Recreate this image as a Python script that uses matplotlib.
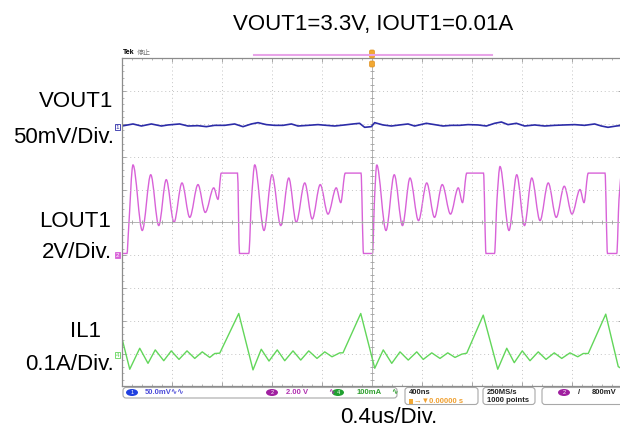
import numpy as np
import matplotlib
matplotlib.use('Agg')
import matplotlib.pyplot as plt
import matplotlib.transforms as mtransforms
from matplotlib.patches import FancyBboxPatch, Ellipse, PathPatch
from matplotlib.path import Path

plt.rcParams['font.family'] = ['Liberation Sans', 'Noto Sans CJK SC', 'DejaVu Sans']

# Text on the chart
title = 'VOUT1=3.3V, IOUT1=0.01A'
time_label = '0.4us/Div.'
ch_names = ['VOUT1', 'LOUT1', 'IL1']
ch_scales = ['50mV/Div.', '2V/Div.', '0.1A/Div.']

# VOUT1 ripple (mV) vs time (us)
vout_t = [-2.000, -1.912, -1.845, -1.765, -1.685, -1.632, -1.539, -1.472, -1.392, -1.325,
          -1.259, -1.179, -1.099, -1.032, -0.965, -0.912, -0.845, -0.779, -0.712, -0.645,
          -0.592, -0.512, -0.432, -0.365, -0.299, -0.219, -0.152, -0.099, -0.059, -0.005,
          0.021, 0.088, 0.155, 0.221, 0.288, 0.341, 0.435, 0.501, 0.568, 0.635,
          0.701, 0.768, 0.848, 0.915, 0.981, 1.035, 1.088, 1.155, 1.221, 1.301,
          1.381, 1.461, 1.541, 1.621, 1.701, 1.781, 1.835, 1.888, 1.955, 2.000]
vout_mv = [1.8, 4.9, 1.8, 4.9, 1.8, 3.4, 4.9, 1.8, 2.3, 0.8,
           2.8, 2.8, 4.9, 0.8, 4.9, 6.9, 3.9, 2.8, 2.8, 4.9,
           1.8, 2.8, 3.9, 2.8, 1.8, 3.4, 4.9, 5.9, -0.2, 0.8,
           6.9, 3.4, 1.8, 3.4, 4.9, 1.8, 5.9, 3.9, 1.8, 2.8,
           2.8, 3.9, 3.4, 1.8, 5.9, 7.9, 3.9, 5.9, 1.8, 3.4,
           1.8, 2.8, 3.4, 3.9, 2.8, 4.9, 1.8, -0.2, 1.8, 2.8]

# LOUT1 switch node (V)
lx_t = [-2.000, -1.960, -1.948, -1.912, -1.838, -1.770, -1.706, -1.646, -1.584, -1.520,
        -1.458, -1.392, -1.334, -1.266, -1.232, -1.206, -1.086, -1.076, -1.060, -0.986,
        -0.964, -0.938, -0.864, -0.800, -0.730, -0.666, -0.606, -0.538, -0.478, -0.414,
        -0.352, -0.286, -0.250, -0.214, -0.106, -0.088, -0.068, 0.004, 0.020, 0.038,
        0.112, 0.178, 0.244, 0.304, 0.372, 0.438, 0.500, 0.562, 0.628, 0.690,
        0.724, 0.758, 0.878, 0.892, 0.912, 0.980, 1.000, 1.024, 1.096, 1.158,
        1.220, 1.278, 1.344, 1.410, 1.474, 1.538, 1.600, 1.664, 1.696, 1.730,
        1.850, 1.864, 1.884, 1.958, 1.976, 2.000]
lx_v = [0.1, 0.1, 1.5, 5.5, 1.5, 4.9, 1.8, 4.6, 2.0, 4.4,
        2.3, 4.3, 2.6, 4.1, 3.4, 5.0, 5.0, 5.0, 0.1, 0.1,
        3.4, 5.5, 1.5, 4.9, 1.8, 4.7, 2.0, 4.4, 2.2, 4.3,
        2.5, 4.1, 3.2, 5.0, 5.0, 5.0, 0.1, 0.1, 3.4, 5.5,
        1.5, 4.9, 1.8, 4.7, 2.1, 4.4, 2.3, 4.3, 2.5, 4.1,
        3.2, 5.0, 5.0, 5.0, 0.1, 0.1, 3.4, 5.4, 1.5, 4.9,
        1.8, 4.7, 2.1, 4.4, 2.3, 4.2, 2.5, 4.0, 3.2, 5.0,
        5.0, 5.0, 0.1, 0.1, 3.4, 5.5]

# IL1 inductor current (mA)
il_t = [-2.000, -1.938, -1.858, -1.792, -1.734, -1.666, -1.606, -1.544, -1.480, -1.418,
        -1.358, -1.298, -1.258, -1.218, -1.066, -0.952, -0.886, -0.824, -0.758, -0.698,
        -0.632, -0.570, -0.506, -0.440, -0.378, -0.320, -0.258, -0.232, -0.090, 0.022,
        0.090, 0.158, 0.224, 0.290, 0.358, 0.410, 0.478, 0.544, 0.606, 0.664,
        0.718, 0.758, 0.890, 1.006, 1.078, 1.138, 1.202, 1.264, 1.330, 1.392,
        1.458, 1.518, 1.584, 1.646, 1.690, 1.730, 1.870, 1.970, 2.000]
il_ma = [51, -43, 21, -25, 16, -17, 13, -13, 13, -10,
         10, -7, 5, 6, 127, -45, 18, -18, 16, -17,
         13, -15, 13, -10, 10, -5, 7, 7, 127, -40,
         16, -25, 10, -15, 10, -13, 7, -10, 7, -7,
         3, 6, 122, -43, 21, -23, 13, -17, 10, -13,
         7, -10, 7, -5, 5, 5, 125, -35, -42]

# scope settings: units/div and ground marker position (div)
CH1_SCALE, CH1_POS = 50.0, 2.9
CH2_SCALE, CH2_POS = 2.0, -1.0
CH4_SCALE, CH4_POS = 100.0, -4.05

BLUE = '#2c2ca8'
MAGENTA = '#d862d8'
GREEN = '#62d65a'


def trace_path(x, y):
    """Smooth curve through the read points (monotone cubic, no overshoot)."""
    x = np.asarray(x, float)
    y = np.asarray(y, float)
    h = np.diff(x)
    d = np.diff(y) / h
    m = np.zeros_like(y)
    m[0], m[-1] = d[0], d[-1]
    for k in range(1, len(x) - 1):
        if d[k - 1] * d[k] > 0:
            w1 = 2 * h[k] + h[k - 1]
            w2 = h[k] + 2 * h[k - 1]
            m[k] = (w1 + w2) / (w1 / d[k - 1] + w2 / d[k])
    verts = [(x[0], y[0])]
    codes = [Path.MOVETO]
    for k in range(len(x) - 1):
        verts += [(x[k] + h[k] / 3, y[k] + m[k] * h[k] / 3),
                  (x[k + 1] - h[k] / 3, y[k + 1] - m[k + 1] * h[k] / 3),
                  (x[k + 1], y[k + 1])]
        codes += [Path.CURVE4] * 3
    return Path(verts, codes)


W, H = 620, 430
fig = plt.figure(figsize=(W / 100, H / 100), dpi=100)
fig.patch.set_facecolor('white')
# pixel coords measured from the top-left corner
pix = mtransforms.Affine2D().scale(1 / 100, -1 / 100).translate(0, H / 100) + fig.dpi_scale_trans

ax = fig.add_axes([122 / W, 1 - 386.3 / H, 500 / W, 328 / H])
ax.set_xlim(-2, 2)
ax.set_ylim(-5, 5)
ax.set_xticks(np.arange(-2, 2.01, 0.4))
ax.set_yticks(np.arange(-5, 5.01, 1))
ax.set_xticks(np.arange(-2, 2.01, 0.08), minor=True)
ax.set_yticks(np.arange(-5, 5.01, 0.2), minor=True)
ax.tick_params(which='both', direction='in', color='#999999', top=True, right=True,
               labelbottom=False, labelleft=False)
ax.tick_params(which='major', length=3, width=0.6)
ax.tick_params(which='minor', length=1.5, width=0.5)
for s in ax.spines.values():
    s.set_color('#8c8c8c')
    s.set_linewidth(0.9)
ax.grid(True, which='major', color='#c4c4c4', lw=0.7, ls=(0, (1, 3)))
ax.axhline(0, color='#b4b4b4', lw=0.7)
ax.axvline(0, color='#b4b4b4', lw=0.7)
ax.plot(np.arange(-2, 2.01, 0.08), np.zeros(51), ls='', marker='|', ms=3.5, mew=0.6, color='#a0a0a0')
ax.plot(np.zeros(51), np.arange(-5, 5.01, 0.2), ls='', marker='_', ms=3.5, mew=0.6, color='#a0a0a0')

# traces
ax.plot(vout_t, CH1_POS + np.array(vout_mv) / CH1_SCALE, color=BLUE, lw=1.2)
ax.add_patch(PathPatch(trace_path(lx_t, CH2_POS + np.array(lx_v) / CH2_SCALE),
                       fc='none', ec=MAGENTA, lw=1.0))
ax.plot(il_t, CH4_POS + np.array(il_ma) / CH4_SCALE, color=GREEN, lw=1.0)

# channel ground markers on the left edge
for num, pos, col, filled in [('1', CH1_POS, BLUE, False), ('2', CH2_POS, MAGENTA, True),
                              ('4', CH4_POS, GREEN, False)]:
    ax.annotate(num, xy=(-2, pos), xytext=(-3.3, 0), textcoords='offset points',
                ha='center', va='center', fontsize=4.5,
                color='white' if filled else col, annotation_clip=False,
                bbox=dict(boxstyle='square,pad=0.12', fc=col if filled else 'white', ec=col, lw=0.6))

# titles and labels
fig.text(373, 30, title, transform=pix, ha='center', va='baseline', fontsize=16)
fig.text(389, 423, time_label, transform=pix, ha='center', va='baseline', fontsize=16)
label_pos = [(113, 106.7), (111, 227), (101, 337)]
scale_pos = [(114, 143.3), (112, 258), (114, 370)]
for name, sc, (nx, ny), (sx, sy) in zip(ch_names, ch_scales, label_pos, scale_pos):
    fig.text(nx, ny, name, transform=pix, ha='right', va='baseline', fontsize=16)
    fig.text(sx, sy, sc, transform=pix, ha='right', va='baseline', fontsize=16)

# scope screen decorations
fig.text(123, 53, 'Tek', transform=pix, ha='left', va='center', fontsize=5, weight='bold')
fig.text(137, 53, '停止', transform=pix, ha='left', va='center', fontsize=5, color='#777777',
         family=['Noto Sans CJK SC', 'DejaVu Sans'])
fig.add_artist(plt.Line2D([254, 492], [54.7, 54.7], transform=pix, color='#e8a4e8', lw=1.5))
for y0, h in [(50, 8), (61, 6)]:
    fig.add_artist(FancyBboxPatch((369.5, y0), 5, h, boxstyle='round,pad=0,rounding_size=1.5',
                                  transform=pix, fc='#f2a832', ec='#e09020', lw=0.5))


# status bar
def box(x, y, w, h):
    fig.add_artist(FancyBboxPatch((x, y), w, h, boxstyle='round,pad=0,rounding_size=3',
                                  transform=pix, fc='white', ec='#a8a8a8', lw=0.8))


def oval(x, y, col, num):
    fig.add_artist(Ellipse((x, y), 12, 7, transform=pix, fc=col, ec='none'))
    fig.text(x, y, num, transform=pix, ha='center', va='center', fontsize=4, color='white')


def small(x, y, s, col='#222222'):
    fig.text(x, y, s, transform=pix, ha='left', va='center', fontsize=5.5, color=col,
             weight='bold', family=['Liberation Sans', 'DejaVu Sans'])


box(123, 387.5, 274, 10.5)
oval(132, 392.5, '#2040e0', '1')
small(145, 392.5, '50.0mV\u223f\u223f', '#4a4ad8')
oval(272, 392.5, '#a020a0', '2')
small(286, 392.5, '2.00 V', '#b030b0')
small(328, 392.5, '\u223f', '#b030b0')
oval(338, 392.5, '#20a030', '4')
small(357, 392.5, '100mA', '#30a030')
small(391, 392.5, '\u223f', '#30a030')

box(405, 387.5, 73, 17)
small(409, 392.5, '400ns')
fig.add_artist(FancyBboxPatch((409, 398.5), 4, 5, boxstyle='square,pad=0', transform=pix,
                              fc='#f2a832', ec='none'))
small(414, 401, '\u2192\u25bc0.00000 s', '#f0a030')

box(483, 387.5, 52, 17)
small(487, 392.5, '250MS/s')
small(487, 401, '1000 points')

box(542, 387.5, 90, 17)
oval(564, 392.5, '#a020a0', '2')
small(578, 392.5, '/')
small(592, 392.5, '800mV')

fig.savefig('out.png', dpi=100, facecolor='white')
